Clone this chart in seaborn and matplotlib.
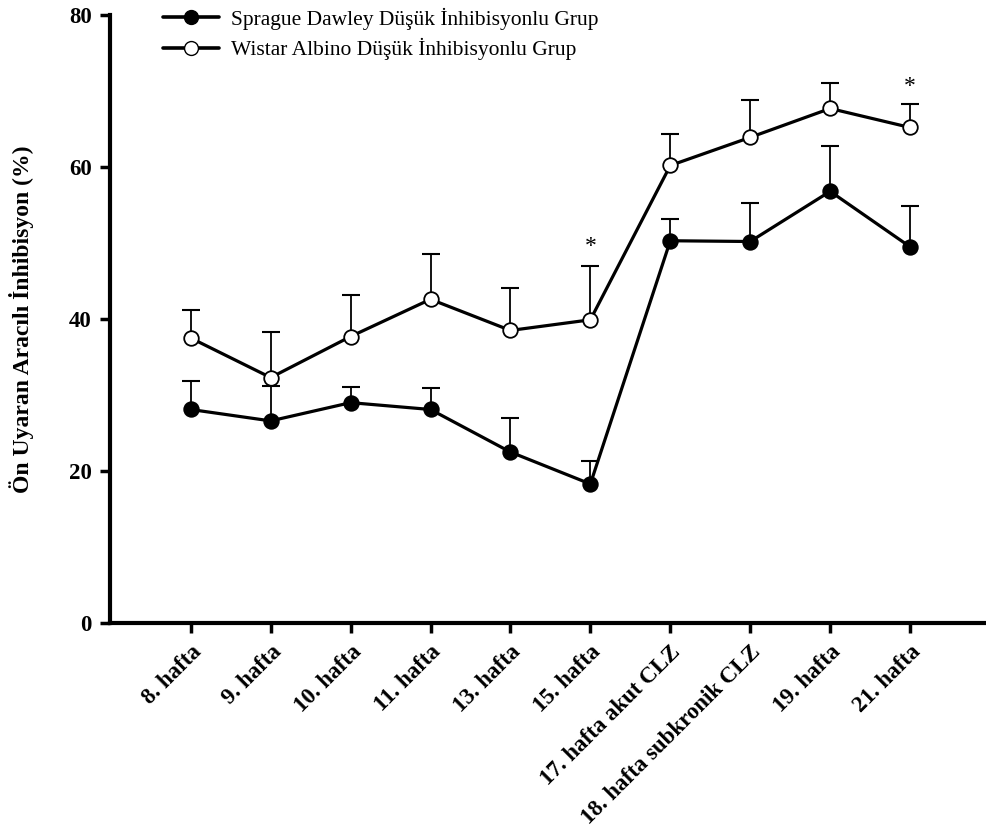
import numpy as np
import pandas as pd
import matplotlib
matplotlib.use('Agg')
import matplotlib.pyplot as plt
import seaborn as sns
from matplotlib.lines import Line2D

# Data
weeks = ['8. hafta', '9. hafta', '10. hafta', '11. hafta', '13. hafta', '15. hafta',
         '17. hafta akut CLZ', '18. hafta subkronik CLZ', '19. hafta', '21. hafta']
sd_mean = [28.1, 26.6, 29.0, 28.1, 22.5, 18.3, 50.3, 50.2, 56.8, 49.5]
sd_err = [3.8, 4.6, 2.0, 2.8, 4.5, 3.0, 2.9, 5.1, 6.0, 5.4]
wa_mean = [37.5, 32.3, 37.7, 42.6, 38.5, 39.9, 60.2, 63.9, 67.7, 65.2]
wa_err = [3.7, 6.0, 5.5, 5.9, 5.6, 7.1, 4.2, 4.9, 3.4, 3.1]
star_idx = [5, 9]
star_y = [49.5, 70.6]

sd_label = 'Sprague Dawley Düşük İnhibisyonlu Grup'
wa_label = 'Wistar Albino Düşük İnhibisyonlu Grup'

df = pd.DataFrame({
    'pos': list(range(len(weeks))) * 2,
    'value': sd_mean + wa_mean,
    'group': [sd_label] * len(weeks) + [wa_label] * len(weeks),
})

sns.set_style('ticks')
plt.rcParams['font.family'] = ['Liberation Serif', 'DejaVu Serif']
plt.rcParams['text.color'] = 'black'
plt.rcParams['axes.labelcolor'] = 'black'
plt.rcParams['xtick.color'] = 'black'
plt.rcParams['ytick.color'] = 'black'
plt.rcParams['axes.edgecolor'] = 'black'

fig = plt.figure(figsize=(9.86, 8.33), dpi=100)
ax = fig.add_axes([0.1116, 0.252, 0.8884, 0.730])

# upper-only error bars: stem + cap
x = np.arange(len(weeks))
for mean, err in [(sd_mean, sd_err), (wa_mean, wa_err)]:
    top = np.array(mean) + np.array(err)
    ax.vlines(x, mean, top, color='black', lw=1.3, zorder=2)
    ax.plot(x, top, ls='none', marker='_', markersize=13, mew=1.5,
            color='black', zorder=2)

sns.lineplot(data=df, x='pos', y='value', hue='group', style='group',
             palette=['black', 'black'], markers=['o', 'o'], dashes=False,
             linewidth=2.3, markersize=10.5, legend=False, ax=ax, zorder=3)

# fill the markers: Sprague black, Wistar white
lines = ax.get_lines()
for ln in lines[-2:]:
    ln.set_markeredgecolor('black')
    ln.set_markeredgewidth(1.3)
lines[-2].set_markerfacecolor('black')
lines[-1].set_markerfacecolor('white')

for i, yv in zip(star_idx, star_y):
    ax.text(x[i], yv, '*', ha='center', va='center', fontsize=17)

ax.set_xlim(-1.01, 9.95)
ax.set_ylim(0, 80)
ax.set_yticks([0, 20, 40, 60, 80])
ax.set_xticks(x)
ax.set_xticklabels(weeks, rotation=45, ha='right', rotation_mode='anchor',
                   fontweight='bold', fontsize=16.5)
for lab in ax.get_yticklabels():
    lab.set_fontweight('bold')
    lab.set_fontsize(16.5)
ax.tick_params(axis='both', width=2.5, length=7, pad=6)
ax.set_xlabel('')
ax.set_ylabel('Ön Uyaran Aracılı İnhibisyon (%)', fontweight='bold', fontsize=17)
ax.yaxis.set_label_coords(-0.087, 0.5)

sns.despine(ax=ax)
for s in ['left', 'bottom']:
    ax.spines[s].set_linewidth(3)

handles = [
    Line2D([], [], color='black', lw=2.6, marker='o', markersize=10,
           markerfacecolor='black', markeredgecolor='black'),
    Line2D([], [], color='black', lw=2.6, marker='o', markersize=10,
           markerfacecolor='white', markeredgecolor='black'),
]
fig.legend(handles, [sd_label, wa_label], loc='upper left',
           bbox_to_anchor=(0.146, 1.014), frameon=False, fontsize=15.5,
           handlelength=2.6, handletextpad=0.55, labelspacing=0.38)

fig.savefig('out.png', dpi=100)
